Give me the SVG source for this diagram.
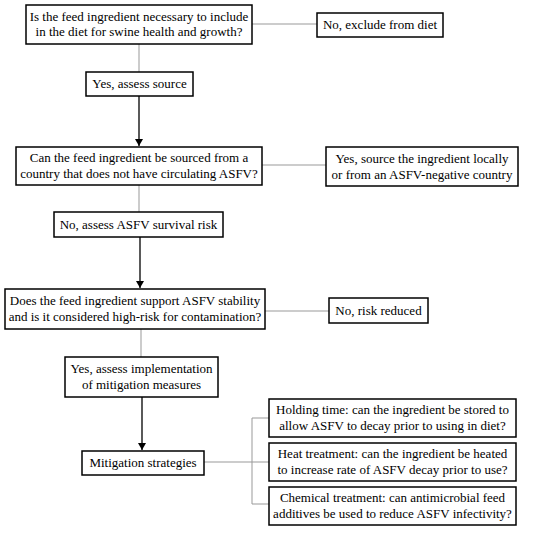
<svg xmlns="http://www.w3.org/2000/svg" width="550" height="535" viewBox="0 0 550 535" font-family="Liberation Serif, Times New Roman, serif">
<style>
rect{fill:#fff;stroke:#000;stroke-width:1.5}
text{font-size:13px;fill:#000;text-anchor:middle}
.g{stroke:#999;stroke-width:1;fill:none}
.b{stroke:#000;stroke-width:1.3;fill:none}
</style>
<defs>
<marker id="ah" markerWidth="8" markerHeight="8" refX="7" refY="4" orient="auto" markerUnits="userSpaceOnUse">
<path d="M0,0 L7,4 L0,8 Z" fill="#000"/>
</marker>
</defs>
<rect fill="#fff" x="0" y="0" width="550" height="535" style="stroke:none"/>
<g id="connectors">
<path class="g" d="M252,24 H317"/>
<path class="g" d="M139,44 V72"/>
<path class="b" d="M139,96 V146" marker-end="url(#ah)"/>
<path class="g" d="M262,165 H326"/>
<path class="g" d="M139,185 V212"/>
<path class="b" d="M140,237 V288" marker-end="url(#ah)"/>
<path class="g" d="M265,311 H329"/>
<path class="g" d="M141,329 V357"/>
<path class="b" d="M142,397 V450" marker-end="url(#ah)"/>
<path class="g" d="M204,462 H269 M252,418 V504 M252,418 H269 M252,504 H269"/>
</g>
<g id="n1"><rect x="26" y="5" width="226" height="39"/><text x="139" y="21">Is the feed ingredient necessary to include</text><text x="139" y="36">in the diet for swine health and growth?</text></g>
<g id="n2"><rect x="317" y="13" width="126" height="24"/><text x="380" y="29">No, exclude from diet</text></g>
<g id="n3"><rect x="86" y="72" width="107" height="24"/><text x="139.5" y="88">Yes, assess source</text></g>
<g id="n4"><rect x="16" y="147" width="246" height="38"/><text x="139" y="162">Can the feed ingredient be sourced from a</text><text x="139" y="178">country that does not have circulating ASFV?</text></g>
<g id="n5"><rect x="326" y="147" width="192" height="39"/><text x="422" y="163">Yes, source the ingredient locally</text><text x="422" y="179">or from an ASFV-negative country</text></g>
<g id="n6"><rect x="54" y="212" width="169" height="25"/><text x="138.5" y="229">No, assess ASFV survival risk</text></g>
<g id="n7"><rect x="5" y="289" width="260" height="40"/><text x="135" y="305">Does the feed ingredient support ASFV stability</text><text x="135" y="321">and is it considered high-risk for contamination?</text></g>
<g id="n8"><rect x="329" y="298" width="99" height="25"/><text x="378.5" y="315">No, risk reduced</text></g>
<g id="n9"><rect x="65" y="357" width="153" height="40"/><text x="141.5" y="373">Yes, assess implementation</text><text x="141.5" y="389">of mitigation measures</text></g>
<g id="n10"><rect x="82" y="451" width="122" height="24"/><text x="143" y="467">Mitigation strategies</text></g>
<g id="n11"><rect x="269" y="399" width="247" height="38"/><text x="392.5" y="414">Holding time: can the ingredient be stored to</text><text x="392.5" y="430">allow ASFV to decay prior to using in diet?</text></g>
<g id="n12"><rect x="269" y="443" width="247" height="38"/><text x="392.5" y="458">Heat treatment: can the ingredient be heated</text><text x="392.5" y="474">to increase rate of ASFV decay prior to use?</text></g>
<g id="n13"><rect x="269" y="487" width="247" height="38"/><text x="392.5" y="502">Chemical treatment: can antimicrobial feed</text><text x="392.5" y="518">additives be used to reduce ASFV infectivity?</text></g>
</svg>
